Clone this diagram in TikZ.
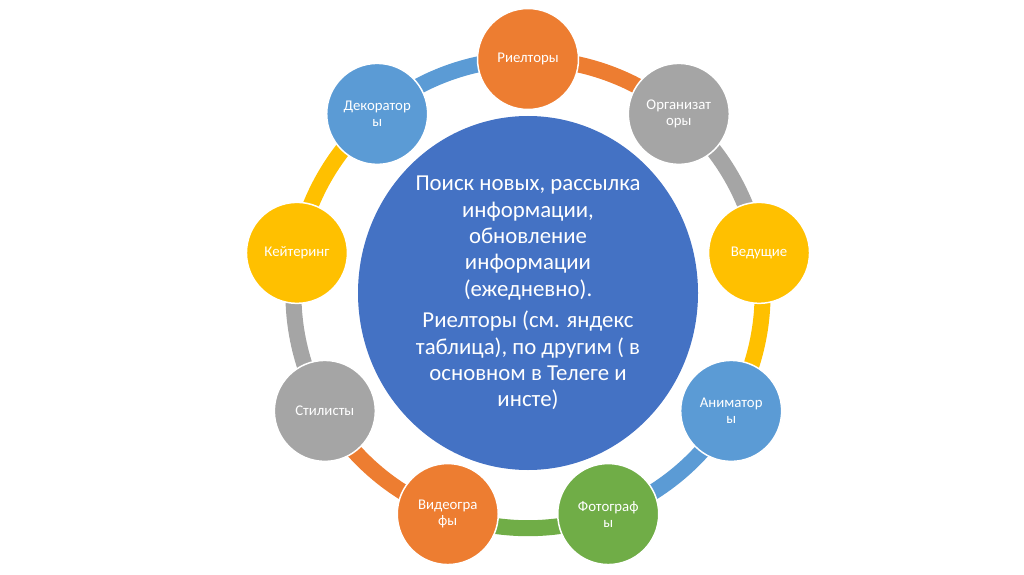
\documentclass[tikz,border=0pt]{standalone}
\usepackage{fontspec}
\setmainfont{Carlito}
\usetikzlibrary{shapes.geometric}
\definecolor{cOrange}{HTML}{ED7D31}
\definecolor{cGray}{HTML}{A5A5A5}
\definecolor{cYellow}{HTML}{FFC000}
\definecolor{cBlue}{HTML}{5B9BD5}
\definecolor{cGreen}{HTML}{70AD47}
\definecolor{cDark}{HTML}{4472C4}
\begin{document}
\begin{tikzpicture}[x=1pt,y=1pt,
  ringnode/.style={circle, minimum size=101pt, inner sep=0pt, draw=white, line width=1.5pt,
    text=white, align=center, font=\fontsize{14.8}{16}\selectfont},
  ringarc/.style={line width=16pt},
  hub/.style={ellipse, minimum width=340pt, minimum height=354pt, inner sep=0pt, fill=cDark,
    text=white, align=center, font=\fontsize{22.8}{26.3}\selectfont}]
\useasboundingbox (0,0) rectangle (1024,574);
\def\R{234.6}
\coordinate (c) at (528,280.4);
% hub
\node[hub] (hub) at (528,281) {Поиск новых, рассылка\\информации,\\обновление\\информации\\(ежедневно).\\[5.4pt]Риелторы (см. яндекс\\таблица), по другим ( в\\основном в Телеге и\\инсте)};
% ring node positions
\coordinate (p0) at ([shift={(90:\R)}]c);
\coordinate (p1) at ([shift={(50:\R)}]c);
\coordinate (p2) at ([shift={(10:\R)}]c);
\coordinate (p3) at ([shift={(-30:\R)}]c);
\coordinate (p4) at ([shift={(-70:\R)}]c);
\coordinate (p5) at ([shift={(-110:\R)}]c);
\coordinate (p6) at ([shift={(-150:\R)}]c);
\coordinate (p7) at ([shift={(-190:\R)}]c);
\coordinate (p8) at ([shift={(-230:\R)}]c);
% arcs
\draw[ringarc, cOrange] (p0) arc[start angle=90, end angle=50, radius=\R];
\draw[ringarc, cGray] (p1) arc[start angle=50, end angle=10, radius=\R];
\draw[ringarc, cYellow] (p2) arc[start angle=10, end angle=-30, radius=\R];
\draw[ringarc, cBlue] (p3) arc[start angle=-30, end angle=-70, radius=\R];
\draw[ringarc, cGreen] (p4) arc[start angle=-70, end angle=-110, radius=\R];
\draw[ringarc, cOrange] (p5) arc[start angle=-110, end angle=-150, radius=\R];
\draw[ringarc, cGray] (p6) arc[start angle=-150, end angle=-190, radius=\R];
\draw[ringarc, cYellow] (p7) arc[start angle=-190, end angle=-230, radius=\R];
\draw[ringarc, cBlue] (p8) arc[start angle=-230, end angle=-270, radius=\R];
% ring nodes
\node[ringnode, fill=cOrange] (n0) at (p0) {Риелторы};
\node[ringnode, fill=cGray] (n1) at (p1) {Организат\\оры};
\node[ringnode, fill=cYellow] (n2) at (p2) {Ведущие};
\node[ringnode, fill=cBlue] (n3) at (p3) {Аниматор\\ы};
\node[ringnode, fill=cGreen] (n4) at (p4) {Фотограф\\ы};
\node[ringnode, fill=cOrange] (n5) at (p5) {Видеогра\\фы};
\node[ringnode, fill=cGray] (n6) at (p6) {Стилисты};
\node[ringnode, fill=cYellow] (n7) at (p7) {Кейтеринг};
\node[ringnode, fill=cBlue] (n8) at (p8) {Декоратор\\ы};
\end{tikzpicture}
\end{document}
